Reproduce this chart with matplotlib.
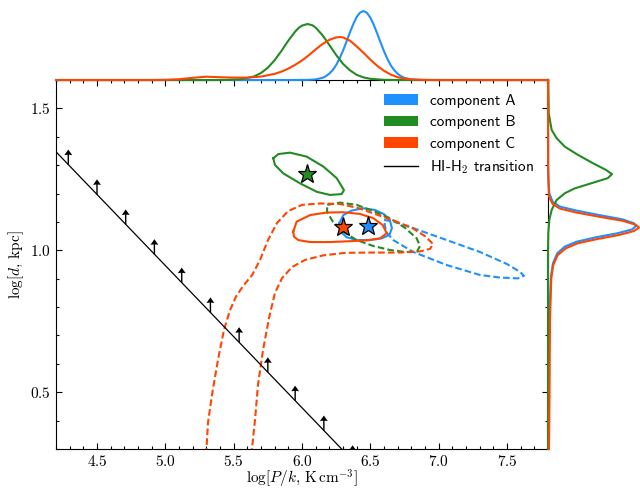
# 成分ごとの log P - log d 分布と HI-H2 遷移線

# --------------------------------------------
# インポート
# --------------------------------------------

import matplotlib
matplotlib.use('Agg')
from matplotlib import pyplot as plt
from matplotlib.patches import Patch
from matplotlib.lines import Line2D
from matplotlib.ticker import MultipleLocator

# --------------------------------------------
# データ
# --------------------------------------------

# 成分名と色
labels = ['component A', 'component B', 'component C']
colors = ['#1E90FF', '#228B22', '#FF4500']

# 最尤点 (log P/k, log d)
star_P = [6.485, 6.039, 6.302]
star_d = [1.087, 1.268, 1.081]

# 成分A の等高線（実線・破線）
A1_P = [6.273, 6.302, 6.364, 6.449, 6.534, 6.600, 6.644, 6.658, 6.639, 6.583, 6.497, 6.400, 6.327, 6.285, 6.273]
A1_d = [1.095, 1.124, 1.140, 1.148, 1.142, 1.127, 1.104, 1.078, 1.054, 1.042, 1.036, 1.036, 1.046, 1.063, 1.095]
A2_P = [6.600, 6.680, 6.814, 7.059, 7.302, 7.498, 7.595, 7.624, 7.580, 7.449, 7.302, 7.059, 6.814, 6.668, 6.615, 6.600]
A2_d = [1.107, 1.100, 1.078, 1.036, 0.994, 0.952, 0.924, 0.910, 0.901, 0.904, 0.913, 0.948, 0.994, 1.036, 1.065, 1.107]

# 成分B の等高線
B1_P = [5.790, 5.827, 5.912, 6.034, 6.156, 6.254, 6.307, 6.290, 6.205, 6.108, 5.985, 5.863, 5.802, 5.790]
B1_d = [1.324, 1.339, 1.344, 1.330, 1.295, 1.254, 1.212, 1.198, 1.195, 1.206, 1.236, 1.271, 1.301, 1.324]
B2_P = [6.185, 6.278, 6.400, 6.522, 6.644, 6.754, 6.839, 6.863, 6.841, 6.754, 6.644, 6.522, 6.400, 6.302, 6.227, 6.183, 6.185]
B2_d = [1.160, 1.168, 1.160, 1.138, 1.113, 1.079, 1.042, 1.015, 0.995, 0.994, 1.001, 1.015, 1.036, 1.065, 1.100, 1.135, 1.160]

# 成分C の等高線
C1_P = [5.936, 5.961, 6.059, 6.181, 6.302, 6.424, 6.522, 6.590, 6.620, 6.571, 6.473, 6.351, 6.205, 6.059, 5.973, 5.941, 5.936]
C1_d = [1.066, 1.101, 1.124, 1.133, 1.134, 1.128, 1.113, 1.089, 1.060, 1.042, 1.035, 1.032, 1.029, 1.029, 1.036, 1.048, 1.066]
C2_P = [5.296, 5.301, 5.312, 5.341, 5.385, 5.429, 5.470, 5.515, 5.570, 5.634, 5.693, 5.751, 5.817, 5.898, 6.000,
        6.132, 6.278, 6.410, 6.534, 6.680, 6.805, 6.900, 6.959, 6.937, 6.863, 6.717, 6.498, 6.315, 6.154,
        6.022, 5.927, 5.854, 5.802, 5.759, 5.715, 5.678, 5.656, 5.634, 5.630]
C2_d = [0.280, 0.300, 0.392, 0.490, 0.614, 0.719, 0.785, 0.835, 0.875, 0.912, 0.966, 1.036, 1.096, 1.138, 1.160,
        1.165, 1.163, 1.149, 1.128, 1.103, 1.079, 1.050, 1.022, 1.005, 0.996, 0.992, 0.992, 0.991, 0.982,
        0.966, 0.941, 0.902, 0.850, 0.762, 0.649, 0.526, 0.402, 0.300, 0.280]

# HI-H2 遷移線と下限矢印
hi_P = [4.2, 6.32]
hi_d = [1.347, 0.285]
arr_P = [4.29, 4.50, 4.71, 4.92, 5.12, 5.33, 5.54, 5.75, 5.95, 6.16, 6.37]
arr_d = [1.302, 1.197, 1.091, 0.986, 0.886, 0.781, 0.676, 0.570, 0.470, 0.365, 0.260]
arr_len = 0.053

# 上側の周辺分布 (log P/k)
top_P_A = [4.2, 5.9, 6.05, 6.10, 6.15, 6.175, 6.20, 6.225, 6.25, 6.275, 6.30, 6.325, 6.35, 6.375, 6.40, 6.425,
           6.45, 6.475, 6.50, 6.525, 6.55, 6.575, 6.60, 6.625, 6.65, 6.675, 6.70, 6.725, 6.75, 6.80, 6.85, 6.95, 7.8]
top_A = [0, 0, 0.008, 0.03, 0.11, 0.19, 0.32, 0.50, 0.75, 1.08, 1.47, 1.91, 2.37, 2.79, 3.15, 3.37,
         3.45, 3.36, 3.12, 2.76, 2.33, 1.87, 1.44, 1.05, 0.73, 0.49, 0.31, 0.19, 0.11, 0.03, 0.007, 0, 0]
top_P_B = [4.2, 5.35, 5.45, 5.55, 5.65, 5.70, 5.75, 5.80, 5.85, 5.90, 5.95, 5.975, 6.00, 6.04, 6.075, 6.10,
           6.15, 6.20, 6.25, 6.30, 6.35, 6.40, 6.45, 6.50, 6.60, 6.70, 7.8]
top_B = [0, 0, 0.005, 0.036, 0.18, 0.35, 0.615, 0.99, 1.46, 1.97, 2.42, 2.60, 2.72, 2.80, 2.74, 2.62,
         2.24, 1.75, 1.25, 0.81, 0.49, 0.26, 0.13, 0.06, 0.01, 0, 0]
top_P_C = [4.2, 4.9, 5.0, 5.1, 5.2, 5.3, 5.4, 5.5, 5.6, 5.7, 5.8, 5.85, 5.9, 5.95, 6.0, 6.05, 6.1, 6.15,
           6.2, 6.25, 6.28, 6.3, 6.35, 6.4, 6.45, 6.5, 6.55, 6.6, 6.65, 6.7, 6.75, 6.8, 6.9, 7.0, 7.8]
top_C = [0, 0, 0.01, 0.04, 0.11, 0.165, 0.14, 0.12, 0.12, 0.17, 0.31, 0.42, 0.57, 0.76, 0.98, 1.24, 1.53, 1.80,
         2.01, 2.13, 2.15, 2.13, 1.97, 1.68, 1.36, 1.02, 0.71, 0.46, 0.27, 0.14, 0.07, 0.03, 0.005, 0, 0]

# 右側の周辺分布 (log d)
right_d_A = [1.6, 1.3, 1.248, 1.201, 1.171, 1.154, 1.140, 1.124, 1.109, 1.095, 1.086, 1.074, 1.060, 1.046,
             1.030, 1.013, 0.989, 0.954, 0.907, 0.754, 0.473, 0.3]
right_A = [0, 0.003, 0.015, 0.065, 0.235, 0.6, 1.435, 2.6, 3.765, 4.35, 4.45, 4.265, 3.515, 2.435,
           1.435, 0.85, 0.465, 0.25, 0.15, 0.06, 0.03, 0.02]
right_d_B = [1.6, 1.483, 1.424, 1.395, 1.365, 1.336, 1.307, 1.283, 1.268, 1.254, 1.236, 1.218, 1.201, 1.177,
             1.142, 1.107, 1.061, 1.0, 0.3]
right_B = [0.01, 0.035, 0.185, 0.435, 0.85, 1.515, 2.265, 2.935, 3.235, 3.015, 2.185, 1.35, 0.85, 0.435,
           0.185, 0.065, 0.015, 0, 0]
right_d_C = [1.6, 1.3, 1.189, 1.163, 1.147, 1.133, 1.118, 1.104, 1.090, 1.080, 1.068, 1.054, 1.040, 1.025,
             1.007, 0.983, 0.948, 0.901, 0.754, 0.473, 0.3]
right_C = [0, 0.005, 0.05, 0.235, 0.6, 1.435, 2.6, 3.765, 4.435, 4.6, 4.35, 3.6, 2.515, 1.515,
           0.9, 0.485, 0.265, 0.165, 0.1, 0.075, 0.05]

# --------------------------------------------
# 描画設定
# --------------------------------------------

plt.rcParams['font.family'] = 'serif'
plt.rcParams['font.serif'] = ['cmr10']
plt.rcParams['mathtext.fontset'] = 'cm'
plt.rcParams['axes.formatter.use_mathtext'] = True
plt.rcParams['axes.unicode_minus'] = False

fig = plt.figure(figsize=(6.4, 4.9), dpi=100)
ax = fig.add_axes([0.0875, 0.0837, 0.76875, 0.7531])
ax_top = fig.add_axes([0.0875, 0.8367, 0.76875, 0.1633], sharex=ax)
ax_right = fig.add_axes([0.85625, 0.0837, 0.14375, 0.7531], sharey=ax)

lw = 1.5

# 等高線
contours = [(A1_P, A1_d, A2_P, A2_d), (B1_P, B1_d, B2_P, B2_d), (C1_P, C1_d, C2_P, C2_d)]
for (p1, d1, p2, d2), c in zip(contours, colors):
    ax.plot(p1, d1, color=c, lw=lw, ls='-')
    ax.plot(p2, d2, color=c, lw=lw, ls=(0, (3.2, 1.5)))

# 遷移線と矢印
ax.plot(hi_P, hi_d, color='k', lw=0.9)
ax.quiver(arr_P, arr_d, [0] * len(arr_P), [arr_len] * len(arr_P), angles='xy', scale_units='xy', scale=1,
          units='dots', width=1.4, headwidth=5.6, headlength=4.0, headaxislength=3.7, minshaft=0.5,
          color='k', zorder=3)

# 最尤点の星印
for p, d, c in zip(star_P, star_d, colors):
    ax.plot(p, d, marker='*', ms=14, mfc=c, mec='k', mew=0.9, zorder=5)

# 軸の範囲と目盛
ax.set_xlim(4.2, 7.8)
ax.set_ylim(0.3, 1.6)
ax.xaxis.set_major_locator(MultipleLocator(0.5))
ax.xaxis.set_minor_locator(MultipleLocator(0.1))
ax.yaxis.set_major_locator(MultipleLocator(0.5))
ax.yaxis.set_minor_locator(MultipleLocator(0.1))
ax.tick_params(which='both', direction='in', top=True, right=True, labelsize=11, width=0.8)
ax.tick_params(which='major', length=4.5)
ax.tick_params(which='minor', length=2.5)
for s in ax.spines.values():
    s.set_linewidth(0.8)
ax.set_xlabel(r'$\log[P/k,\,{\rm K\,cm^{-3}}]$', fontsize=11, labelpad=-0.5)
ax.set_ylabel(r'$\log[d,\,{\rm kpc}]$', fontsize=11, labelpad=3)

# 凡例
handles = [Patch(facecolor=c, edgecolor='none', label=l) for c, l in zip(colors, labels)]
handles.append(Line2D([], [], color='k', lw=1.0, label=r'HI-H$_\mathsf{2}$ transition'))
ax.legend(handles=handles, loc='upper right', frameon=False, prop={'family': 'cmss10', 'size': 11},
          handlelength=2.2, borderaxespad=0.5)

# 周辺分布
for P, v, c in zip([top_P_A, top_P_B, top_P_C], [top_A, top_B, top_C], colors):
    ax_top.plot(P, v, color=c, lw=lw, clip_on=False)
ax_top.set_ylim(0, 4.0)
ax_top.axis('off')

for d, v, c in zip([right_d_A, right_d_B, right_d_C], [right_A, right_B, right_C], colors):
    ax_right.plot(v, d, color=c, lw=lw, clip_on=False)
ax_right.set_xlim(0, 4.65)
ax_right.axis('off')

# 保存
fig.savefig('out.png', dpi=100)
